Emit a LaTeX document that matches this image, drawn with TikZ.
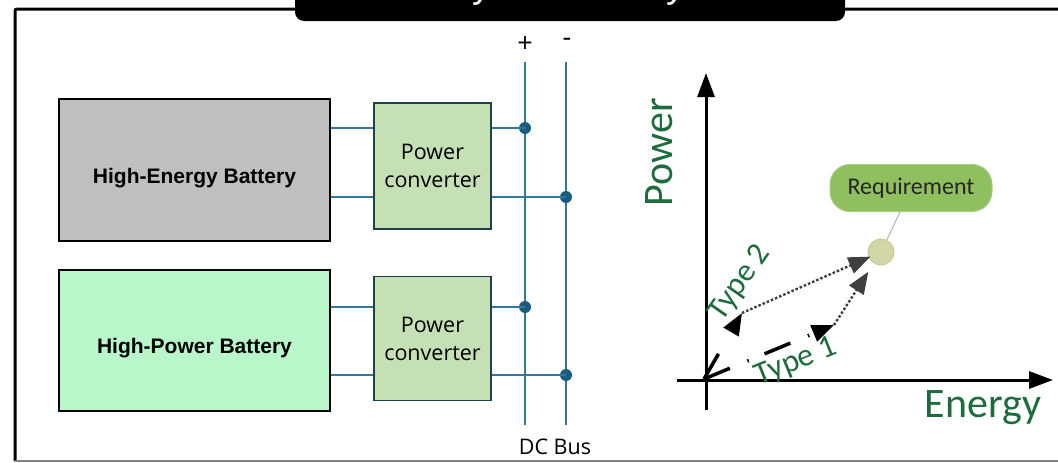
\documentclass[tikz,border=0pt]{standalone}
\usepackage{fontspec}
\setmainfont{Liberation Sans}
\newfontfamily\carlito{Carlito}
\newfontfamily\opensans{Open Sans}
\usetikzlibrary{arrows.meta,calc}
\definecolor{hegray}{HTML}{BFBFBF}
\definecolor{hpgreen}{HTML}{B9F7CA}
\definecolor{convf}{HTML}{C5E0B4}
\definecolor{convb}{HTML}{21404F}
\definecolor{busc}{HTML}{3277A0}
\definecolor{dotc}{HTML}{1A5C80}
\definecolor{txtgreen}{HTML}{1E6B3C}
\definecolor{reqf}{HTML}{8FBF5E}
\definecolor{reqb}{HTML}{A6CD86}
\definecolor{ptf}{HTML}{D3D7A8}
\definecolor{ptb}{HTML}{C4CC9A}
\definecolor{dotln}{HTML}{3F3F3F}
\begin{document}
\begin{tikzpicture}[x=1pt,y=-1pt,
  battery/.style={draw=black, line width=2.5pt, minimum width=271pt, minimum height=142pt, inner sep=0pt, text height=26pt, text depth=0pt, font=\bfseries\fontsize{21}{25}\selectfont},
  conv/.style={draw=convb, line width=1.8pt, fill=convf, minimum width=117pt, minimum height=126pt, align=center, inner sep=0pt, font=\opensans\fontsize{21.5}{28}\selectfont},
  bus/.style={draw=busc, line width=2pt},
  busdot/.style={circle, fill=dotc, inner sep=0pt, minimum size=12pt},
  plain/.style={inner sep=0pt, font=\opensans\fontsize{21.5}{24}\selectfont},
  sign/.style={inner sep=0pt, font=\opensans\fontsize{27}{28}\selectfont},
  axis/.style={line width=3pt, -{Triangle[length=24pt,width=17pt]}},
  axlbl/.style={inner sep=0pt, text=txtgreen, font=\carlito\fontsize{42}{46}\selectfont},
  typelbl/.style={inner sep=0pt, text=txtgreen, font=\carlito\fontsize{32}{34}\selectfont},
  leg/.style={line width=3.5pt, -{Triangle[length=22pt,width=17pt]}},
  dotline/.style={draw=dotln, line width=2.4pt, dash pattern=on 2.5pt off 2pt, -{Triangle[length=22pt,width=17pt]}},
]
\useasboundingbox (0,0) rectangle (1058,463);
% frame
\draw[line width=3pt, rounded corners=2pt] (1070,9) -- (15,9) -- (15,461);
\draw[draw=gray, line width=2pt] (15,461) -- (1070,461);
% title
\fill[black, rounded corners=9pt] (295,-30) rectangle (845,21);
\node[anchor=base, inner sep=0pt, text=white, font=\fontsize{38}{40}\selectfont] (title) at (565,-2) {Hybrid Battery};
% batteries
\node[battery, fill=hegray] (heb) at (194.5,170) {High-Energy Battery};
\node[battery, fill=hpgreen, minimum height=141pt, text height=25pt] (hpb) at (194.5,340.5) {High-Power Battery};
% converters
\node[conv] (c1) at (432.5,166) {Power\\converter};
\node[conv, minimum height=124pt] (c2) at (432.5,338.5) {Power\\converter};
% bus
\coordinate (ptop) at (525,62);
\coordinate (pbot) at (525,425);
\coordinate (ntop) at (566,62);
\coordinate (nbot) at (566,425);
\draw[bus] (ptop) -- (pbot);
\draw[bus] (ntop) -- (nbot);
\node[busdot] (d1) at (525,128) {};
\node[busdot] (d2) at (566,197) {};
\node[busdot] (d3) at (525,307) {};
\node[busdot] (d4) at (566,375) {};
\draw[bus] (heb.east |- d1) -- (c1.west |- d1);
\draw[bus] (heb.east |- d2) -- (c1.west |- d2);
\draw[bus] (c1.east |- d1) -- (d1.center);
\draw[bus] (c1.east |- d2) -- (d2.center);
\draw[bus] (hpb.east |- d3) -- (c2.west |- d3);
\draw[bus] (hpb.east |- d4) -- (c2.west |- d4);
\draw[bus] (c2.east |- d3) -- (d3.center);
\draw[bus] (c2.east |- d4) -- (d4.center);
\node[sign] (plus) at (525,44) {+};
\node[sign] (minus) at (567,42) {-};
\node[plain] (dcbus) at (555,447) {DC Bus};
% chart
\coordinate (ybot) at (706,410);
\coordinate (ytop) at (706,73);
\coordinate (xl) at (677,380);
\coordinate (xr) at (1053,380);
\draw[axis] (ybot) -- (ytop);
\draw[axis] (xl) -- (xr);
\node[axlbl, rotate=90] (pw) at (659,152) {Power};
\node[axlbl] (en) at (983,408) {Energy};
\node[draw=reqb, line width=1pt, fill=reqf, rounded corners=20pt, minimum width=162pt, minimum height=47pt, inner sep=0pt, font=\carlito\fontsize{24}{26}\selectfont, text=black!85] (req) at (911,188) {Requirement};
\node[circle, draw=ptb, line width=1pt, fill=ptf, minimum size=26pt, inner sep=0pt] (pt) at (881,252) {};
\coordinate (reqfoot) at ($(req.south)+(-11,0)$);
\draw[draw=gray!60, line width=1pt] (pt) -- (reqfoot);
\coordinate (o) at (704,379);
\coordinate (k2) at (742,313);
\coordinate (k1) at (834,325);
\draw[leg, dash pattern=on 29pt off 60pt] (o) -- (k2);
\draw[leg, dash pattern=on 28pt off 19pt on 1.5pt off 17pt] (o) -- (k1);
\draw[dotline, shorten >=-2pt] (k2) -- (pt);
\draw[dotline, shorten >=10pt] (k1) -- (pt);
\node[typelbl, rotate=55] (t2) at (740,283) {Type 2};
\node[typelbl, rotate=22] (t1) at (796,362) {Type 1};
\end{tikzpicture}
\end{document}
